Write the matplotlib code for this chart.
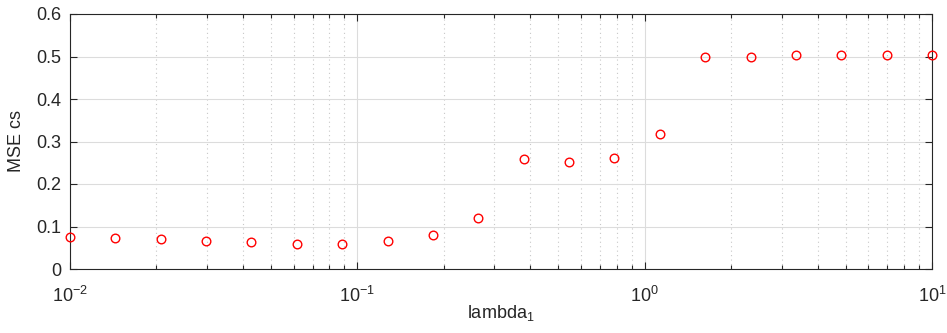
import matplotlib.pyplot as plt
from matplotlib.ticker import LogLocator, NullFormatter, MultipleLocator

plt.rcParams['font.family'] = ['Liberation Sans', 'DejaVu Sans']
plt.rcParams['mathtext.fontset'] = 'custom'
plt.rcParams['mathtext.rm'] = 'Liberation Sans'
plt.rcParams['mathtext.it'] = 'Liberation Sans'
plt.rcParams['mathtext.default'] = 'regular'

# lambda_1 values and MSE
lambda1 = [0.01, 0.01438, 0.02069, 0.02976, 0.04281, 0.06158, 0.08859,
           0.1274, 0.1833, 0.2637, 0.3793, 0.5456, 0.7848, 1.129,
           1.624, 2.336, 3.360, 4.833, 6.952, 10.0]
mse_cs = [0.076, 0.073, 0.070, 0.066, 0.063, 0.060, 0.060,
          0.066, 0.079, 0.121, 0.259, 0.252, 0.262, 0.318,
          0.500, 0.500, 0.503, 0.503, 0.503, 0.503]
yticks = [0, 0.1, 0.2, 0.3, 0.4, 0.5, 0.6]
ylabels = ['0', '0.1', '0.2', '0.3', '0.4', '0.5', '0.6']

axcol = '#262626'
fig = plt.figure(figsize=(9.47, 3.33), dpi=100)
ax = fig.add_axes([70/947, 1-269/333, 862/947, 255/333])

ax.plot(lambda1, mse_cs, 'o', mfc='none', mec='red', ms=6.2, mew=1.0, clip_on=False, zorder=5)

ax.set_xscale('log')
ax.set_xlim(1e-2, 1e1)
ax.set_ylim(0, 0.6)
ax.set_yticks(yticks)
ax.set_yticklabels(ylabels)
ax.xaxis.set_minor_locator(LogLocator(base=10, subs=range(2, 10)))
ax.xaxis.set_minor_formatter(NullFormatter())

ax.grid(True, which='major', color='#dcdcdc', linewidth=0.8, linestyle='-')
ax.grid(True, which='minor', axis='x', color='#c8c8c8', linewidth=0.8, linestyle=(0, (1, 3)))
ax.set_axisbelow(True)

ax.tick_params(which='both', direction='in', top=True, right=True, colors=axcol, labelsize=13, width=0.8)
ax.tick_params(which='major', length=5)
ax.tick_params(which='minor', length=3)
ax.tick_params(axis='y', which='major', pad=6)
ax.tick_params(axis='x', which='major', pad=12)
for s in ax.spines.values():
    s.set_color(axcol)
    s.set_linewidth(0.8)

ax.set_xlabel('lambda$_1$', fontsize=13, color=axcol, labelpad=-2)
ax.set_ylabel('MSE cs', fontsize=13, color=axcol, labelpad=8)

fig.savefig('out.png', dpi=100)
